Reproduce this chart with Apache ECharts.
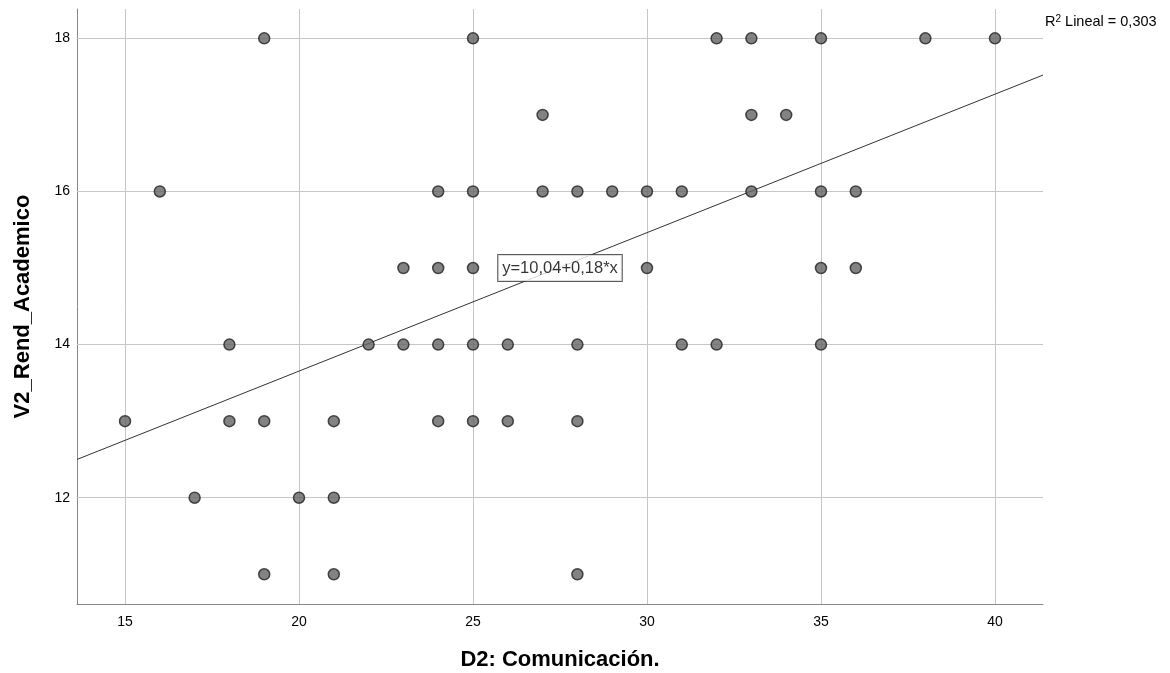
<!DOCTYPE html>
<html>
<head>
<meta charset="utf-8">
<script src="https://cdn.jsdelivr.net/npm/echarts@6/dist/echarts.min.js"></script>
<style>html,body{margin:0;padding:0;background:#fff;}#c{width:1170px;height:673px;}</style>
</head>
<body>
<div id="c"></div>
<script>
// Observed points (x = D2: Comunicación., y = V2_Rend_Academico)
var ptsX = [19,25,32,33,35,38,40, 27,33,34, 16,24,25,27,28,29,30,31,33,35,36, 23,24,25,30,35,36, 18,22,23,24,25,26,28,31,32,35, 15,18,19,21,24,25,26,28, 17,20,21, 19,21,28];
var ptsY = [18,18,18,18,18,18,18, 17,17,17, 16,16,16,16,16,16,16,16,16,16,16, 15,15,15,15,15,15, 14,14,14,14,14,14,14,14,14,14, 13,13,13,13,13,13,13,13, 12,12,12, 11,11,11];
// Fit line endpoints
var fitX = [13.62, 41.38];
var fitY = [12.5, 17.52];
var xTicks = [15, 20, 25, 30, 35, 40];
var yTicks = [12, 14, 16, 18];
var eqText = 'y=10,04+0,18*x';
var eqPos = [27.5, 15];
var r2Value = '0,303';
var xName = 'D2: Comunicación.';
var yName = 'V2_Rend_Academico';

var FONT = '"Liberation Sans", Arial, sans-serif';
var scatterData = ptsX.map(function (x, i) { return [x, ptsY[i]]; });
var fitData = fitX.map(function (x, i) { return [x, fitY[i]]; });
var gridLines = xTicks.map(function (v) { return { xAxis: v }; })
  .concat(yTicks.map(function (v) { return { yAxis: v }; }));

var chart = echarts.init(document.getElementById('c'), null, { renderer: 'canvas' });
chart.setOption({
  backgroundColor: '#fff',
  animation: false,
  textStyle: { fontFamily: FONT },
  grid: { left: 77, right: 127, top: 9, bottom: 69, containLabel: false, outerBoundsMode: 'none' },
  xAxis: {
    type: 'value', min: 13.62, max: 41.38,
    name: xName, nameLocation: 'middle', nameGap: 45,
    nameTextStyle: { fontFamily: FONT, fontSize: 22, fontWeight: 'bold', color: '#000' },
    axisLine: { show: true, lineStyle: { color: '#888', width: 1 } },
    axisTick: { show: false },
    splitLine: { show: false },
    axisLabel: { customValues: xTicks, fontFamily: FONT, fontSize: 14, color: '#000', margin: 11 }
  },
  yAxis: {
    type: 'value', min: 10.612, max: 18.383,
    name: yName, nameLocation: 'middle', nameGap: 43, nameRotate: 90,
    nameTextStyle: { fontFamily: FONT, fontSize: 22, fontWeight: 'bold', color: '#000' },
    axisLine: { show: true, lineStyle: { color: '#888', width: 1 } },
    axisTick: { show: false },
    splitLine: { show: false },
    axisLabel: { customValues: yTicks, fontFamily: FONT, fontSize: 14, color: '#000', margin: 7 }
  },
  series: [
    {
      type: 'line', data: [], z: 1, silent: true,
      markLine: {
        z: 1, silent: true, symbol: ['none', 'none'], label: { show: false },
        lineStyle: { color: '#c6c6c6', width: 1, type: 'solid' },
        emphasis: { disabled: true },
        data: gridLines
      }
    },
    {
      type: 'line', data: fitData, z: 2, symbol: 'none', silent: true,
      lineStyle: { color: '#333', width: 1 }
    },
    {
      type: 'scatter', data: scatterData, z: 3, symbol: 'circle', symbolSize: 11,
      itemStyle: { color: '#646464', borderColor: '#222', borderWidth: 1.5 }
    },
    {
      type: 'scatter', data: [eqPos], z: 4, symbolSize: 0, silent: true,
      label: {
        show: true, position: 'inside', formatter: eqText,
        fontFamily: FONT, fontSize: 16.5, color: '#000',
        backgroundColor: '#fff', borderColor: '#333', borderWidth: 1,
        padding: [5, 4, 4, 4]
      }
    }
  ],
  graphic: [{
    type: 'text', left: 1045, top: 14,
    style: {
      text: 'R{sup|2} Lineal = ' + r2Value,
      fontFamily: FONT, fontSize: 14.5, fill: '#000',
      rich: { sup: { fontSize: 10, verticalAlign: 'top', padding: [0, 0, 6, 0], fontFamily: FONT } }
    }
  }]
});
</script>
</body>
</html>
